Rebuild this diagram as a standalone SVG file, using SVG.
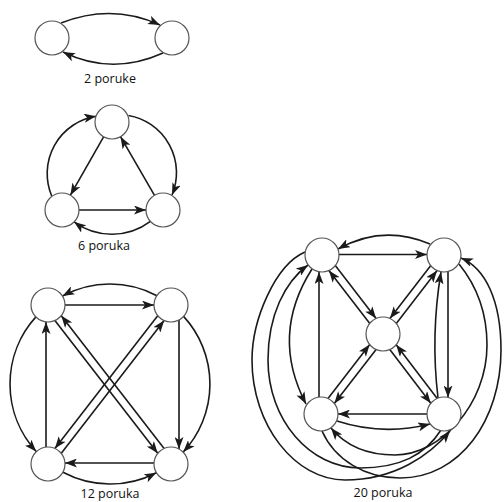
<svg xmlns="http://www.w3.org/2000/svg" width="504" height="502" viewBox="0 0 504 502">
<style>
.n{fill:#fff;stroke:#555;stroke-width:1.2}
.e{fill:none;stroke:#1a1a1a;stroke-width:1.6;marker-end:url(#a)}
.t{font-family:"Open Sans","Noto Sans",sans-serif;font-size:12.5px;fill:#111;text-anchor:middle}
</style>
<defs>
<marker id="a" viewBox="0 0 12 9" refX="12" refY="4.5" markerWidth="12" markerHeight="9" markerUnits="userSpaceOnUse" orient="auto">
<path d="M0,0 L12,4.5 L0,9 L3,4.5 z" fill="#1a1a1a"/>
</marker>
</defs>
<rect width="504" height="502" fill="#fff"/>
<g id="connectors">
<path class="e" d="M61,23 Q112,3 160,25"/>
<path class="e" d="M163,53 Q112,76 63,52"/>
<path class="e" d="M103.6,136.8 L70.4,195.2"/>
<path class="e" d="M154.5,195.3 L120.5,136.7"/>
<path class="e" d="M79,210 L146,210"/>
<path class="e" d="M51.7,196 A58,58 0 0 1 96,116.3"/>
<path class="e" d="M128.5,115.5 A58,58 0 0 1 172,195"/>
<path class="e" d="M150.4,221.4 A64,64 0 0 1 74.1,221.9"/>
<path class="e" d="M65,305 L154,305"/>
<path class="e" d="M179,320 L179,449"/>
<path class="e" d="M46,447 L46,322"/>
<path class="e" d="M154,463 L65,463"/>
<path class="e" d="M54.9,320.5 L157.7,453.3"/>
<path class="e" d="M164.1,448.5 L61.3,315.7"/>
<path class="e" d="M157.7,315.7 L54.9,448.5"/>
<path class="e" d="M61.3,453.3 L164.1,320.5"/>
<path class="e" d="M156.9,295.7 A100,100 0 0 0 62.5,296"/>
<path class="e" d="M35.9,316.9 A100,100 0 0 0 36.2,451.5"/>
<path class="e" d="M183.6,316.4 A100,100 0 0 1 183.2,452.1"/>
<path class="e" d="M63,472.3 A100,100 0 0 0 156.3,472.7"/>
<path class="e" d="M339,254.5 L427,254.5"/>
<path class="e" d="M430,244 Q383,224 338,249"/>
<path class="e" d="M448,271.5 L448,397.5"/>
<path class="e" d="M438,398 Q430.5,335 441,272"/>
<path class="e" d="M319,397 L319,272"/>
<path class="e" d="M312,269 Q270,335 306,404"/>
<path class="e" d="M427,414 L338,414"/>
<path class="e" d="M337,421 Q383,436 430,424"/>
<path class="e" d="M335.3,265.6 L376.1,318.5"/>
<path class="e" d="M369.8,323.4 L328.9,270.5"/>
<path class="e" d="M430.8,265.6 L389.9,318.5"/>
<path class="e" d="M396.3,323.4 L437.1,270.5"/>
<path class="e" d="M328,398.5 L369.7,344.6"/>
<path class="e" d="M376.1,349.5 L334.3,403.4"/>
<path class="e" d="M389.8,349.5 L430.8,403.3"/>
<path class="e" d="M437.2,398.5 L396.2,344.7"/>
<path class="e" d="M305,252 C275,265 252,320 252,360 C252,425 295,480 345,480 C395,480 430,455 450,431"/>
<path class="e" d="M441,430 C425,455 400,468 360,468 C310,468 268,420 268,360 C268,315 285,282 308,265"/>
<path class="e" d="M459,264 C472,280 487,305 487,345 C487,405 440,455 395,455 C365,455 345,445 331,428"/>
<path class="e" d="M322,431 C335,460 365,478 400,478 C460,478 501,420 501,350 C501,300 485,268 461,258"/>
</g>
<g id="d1-a"><circle class="n" cx="52" cy="38" r="17"/></g>
<g id="d1-b"><circle class="n" cx="172" cy="38" r="17"/></g>
<g id="d2-top"><circle class="n" cx="112" cy="122" r="17"/></g>
<g id="d2-bl"><circle class="n" cx="62" cy="210" r="17"/></g>
<g id="d2-br"><circle class="n" cx="163" cy="210" r="17"/></g>
<g id="d3-tl"><circle class="n" cx="48" cy="305" r="17"/></g>
<g id="d3-tr"><circle class="n" cx="171" cy="305" r="17"/></g>
<g id="d3-bl"><circle class="n" cx="48" cy="464" r="17"/></g>
<g id="d3-br"><circle class="n" cx="171" cy="464" r="17"/></g>
<g id="d4-tl"><circle class="n" cx="322" cy="255" r="17"/></g>
<g id="d4-tr"><circle class="n" cx="444" cy="255" r="17"/></g>
<g id="d4-c"><circle class="n" cx="383" cy="334" r="17"/></g>
<g id="d4-bl"><circle class="n" cx="321" cy="414" r="17"/></g>
<g id="d4-br"><circle class="n" cx="444" cy="414" r="17"/></g>
<g id="labels">
<text class="t" x="110" y="83">2 poruke</text>
<text class="t" x="104" y="250">6 poruka</text>
<text class="t" x="110" y="498">12 poruka</text>
<text class="t" x="383" y="497">20 poruka</text>
</g>
</svg>
